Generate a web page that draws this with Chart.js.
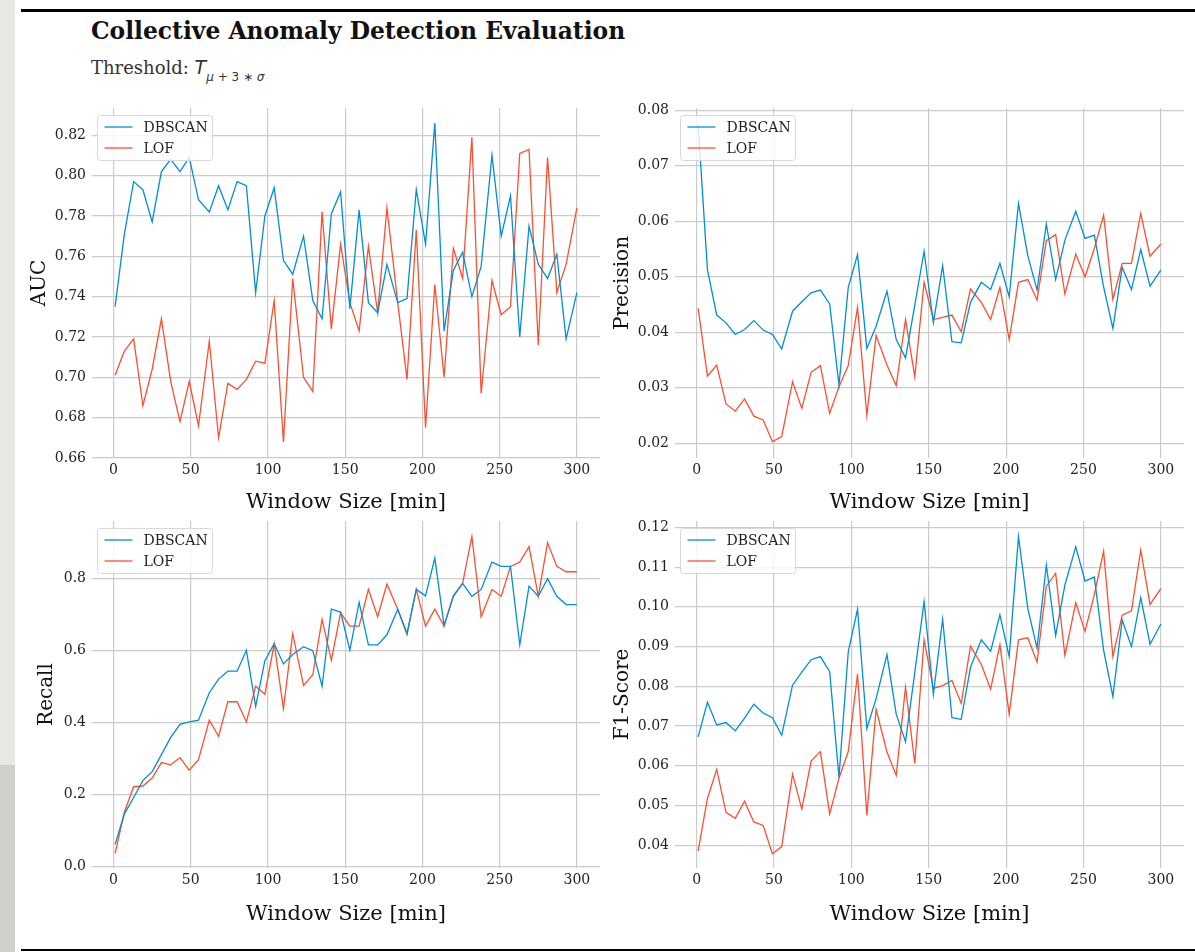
<!DOCTYPE html>
<html>
<head>
<meta charset="utf-8">
<script src="https://cdn.jsdelivr.net/npm/chart.js@4.4.1/dist/chart.umd.min.js"></script>
<style>
  html, body { margin: 0; padding: 0; }
  body { width: 1195px; height: 952px; position: relative; overflow: hidden; background: #fff; font-family: 'DejaVu Serif', serif; color: #111; }
  .strip-top { position: absolute; left: 0; top: 0; width: 15px; height: 765px; background: #e9e7e2; }
  .strip-bottom { position: absolute; left: 0; top: 765px; width: 15px; height: 187px; background: #cfd0cb; }
  .rule-top { position: absolute; left: 21px; top: 9px; width: 1174px; height: 3px; background: #000; }
  .rule-bottom { position: absolute; left: 21px; top: 949px; width: 1174px; height: 2px; background: #000; }
  .title { position: absolute; left: 91px; top: 17px; font-weight: bold; font-size: 23.4px; line-height: 28px; white-space: nowrap; }
  .subtitle { position: absolute; left: 91px; top: 56px; font-size: 18px; line-height: 22px; color: #333; white-space: nowrap; }
  .subtitle .m { font-family: 'DejaVu Sans', sans-serif; font-style: italic; font-size: 19px; }
  .subtitle sub { font-family: 'DejaVu Sans', sans-serif; font-size: 12px; position: relative; top: 2px; }
  .subtitle sub i { font-style: italic; }
  canvas { position: absolute; }
</style>
</head>
<body>
<div class="strip-top"></div>
<div class="strip-bottom"></div>
<div class="rule-top"></div>
<div class="rule-bottom"></div>
<div class="title">Collective Anomaly Detection Evaluation</div>
<div class="subtitle">Threshold: <span class="m">T</span><sub><i>μ</i> + 3 ∗ <i>σ</i></sub></div>

<canvas id="aucChart" width="582" height="425" style="left:28px;top:90px"></canvas>
<canvas id="precisionChart" width="579" height="425" style="left:611px;top:90px"></canvas>
<canvas id="recallChart" width="575" height="424" style="left:35px;top:503px"></canvas>
<canvas id="f1Chart" width="579" height="424" style="left:611px;top:503px"></canvas>

<script>
// window sizes (x axis)
const windowSizes = [1, 7, 13, 19, 25, 31, 37, 43, 49, 55, 62, 68, 74, 80, 86, 92, 98, 104, 110, 116,
  123, 129, 135, 141, 147, 153, 159, 165, 171, 177, 184, 190, 196, 202, 208, 214, 220, 226, 232, 238,
  245, 251, 257, 263, 269, 275, 281, 287, 293, 300];

const aucDbscan = [0.735, 0.771, 0.797, 0.793, 0.777, 0.802, 0.808, 0.802, 0.809, 0.788, 0.782, 0.795,
  0.783, 0.797, 0.795, 0.742, 0.780, 0.794, 0.758, 0.751, 0.770, 0.738, 0.729, 0.781, 0.792, 0.734,
  0.783, 0.737, 0.732, 0.756, 0.737, 0.739, 0.793, 0.766, 0.826, 0.723, 0.753, 0.762, 0.740, 0.755,
  0.810, 0.770, 0.790, 0.720, 0.775, 0.756, 0.749, 0.761, 0.719, 0.742];
const aucLof = [0.701, 0.713, 0.719, 0.686, 0.704, 0.729, 0.698, 0.678, 0.698, 0.676, 0.718, 0.670,
  0.697, 0.694, 0.699, 0.708, 0.707, 0.738, 0.668, 0.749, 0.700, 0.693, 0.782, 0.724, 0.766, 0.737,
  0.723, 0.765, 0.732, 0.784, 0.737, 0.699, 0.773, 0.675, 0.746, 0.700, 0.764, 0.749, 0.819, 0.692,
  0.748, 0.731, 0.735, 0.811, 0.813, 0.716, 0.809, 0.742, 0.756, 0.784];

const precisionDbscan = [0.0775, 0.0513, 0.0431, 0.0417, 0.0396, 0.0405, 0.0421, 0.0404, 0.0396, 0.0370,
  0.0438, 0.0455, 0.0471, 0.0476, 0.0451, 0.0305, 0.0481, 0.0540, 0.0371, 0.0411, 0.0474, 0.0387,
  0.0354, 0.0449, 0.0546, 0.0417, 0.0520, 0.0383, 0.0381, 0.0454, 0.0490, 0.0477, 0.0524, 0.0464,
  0.0632, 0.0538, 0.0476, 0.0595, 0.0495, 0.0566, 0.0618, 0.0569, 0.0575, 0.0482, 0.0407, 0.0517,
  0.0477, 0.0549, 0.0483, 0.0512];
const precisionLof = [0.0443, 0.0321, 0.0341, 0.0271, 0.0258, 0.0280, 0.0249, 0.0242, 0.0203, 0.0212,
  0.0311, 0.0263, 0.0328, 0.0340, 0.0254, 0.0302, 0.0340, 0.0445, 0.0251, 0.0394, 0.0341, 0.0304,
  0.0423, 0.0320, 0.0490, 0.0423, 0.0427, 0.0431, 0.0401, 0.0478, 0.0454, 0.0423, 0.0481, 0.0387,
  0.0490, 0.0495, 0.0458, 0.0565, 0.0576, 0.0469, 0.0541, 0.0500, 0.0551, 0.0611, 0.0459, 0.0524,
  0.0524, 0.0614, 0.0537, 0.0559];

const recallDbscan = [0.061, 0.145, 0.191, 0.238, 0.263, 0.310, 0.358, 0.394, 0.401, 0.406, 0.482, 0.520,
  0.542, 0.542, 0.600, 0.444, 0.571, 0.618, 0.562, 0.588, 0.610, 0.599, 0.500, 0.714, 0.706, 0.600,
  0.733, 0.615, 0.615, 0.643, 0.714, 0.647, 0.769, 0.751, 0.856, 0.669, 0.751, 0.786, 0.750, 0.769,
  0.845, 0.833, 0.833, 0.615, 0.778, 0.750, 0.799, 0.750, 0.727, 0.727];
const recallLof = [0.036, 0.150, 0.221, 0.223, 0.245, 0.288, 0.282, 0.302, 0.267, 0.296, 0.406, 0.361,
  0.457, 0.457, 0.401, 0.500, 0.478, 0.618, 0.438, 0.646, 0.502, 0.532, 0.686, 0.572, 0.704, 0.667,
  0.667, 0.769, 0.693, 0.784, 0.714, 0.644, 0.769, 0.667, 0.714, 0.667, 0.750, 0.786, 0.916, 0.693,
  0.769, 0.750, 0.833, 0.845, 0.888, 0.750, 0.899, 0.833, 0.818, 0.818];

const f1Dbscan = [0.0673, 0.0760, 0.0703, 0.0709, 0.0688, 0.0720, 0.0755, 0.0733, 0.0721, 0.0677,
  0.0803, 0.0836, 0.0867, 0.0875, 0.0837, 0.0571, 0.0887, 0.0994, 0.0694, 0.0769, 0.0880, 0.0730,
  0.0661, 0.0835, 0.1013, 0.0780, 0.0969, 0.0721, 0.0717, 0.0848, 0.0917, 0.0888, 0.0980, 0.0875,
  0.1177, 0.0996, 0.0896, 0.1105, 0.0928, 0.1055, 0.1151, 0.1065, 0.1075, 0.0891, 0.0774, 0.0967,
  0.0900, 0.1023, 0.0906, 0.0957];
const f1Lof = [0.0386, 0.0518, 0.0591, 0.0483, 0.0468, 0.0511, 0.0459, 0.0450, 0.0379, 0.0397,
  0.0579, 0.0491, 0.0612, 0.0636, 0.0479, 0.0569, 0.0636, 0.0831, 0.0476, 0.0742, 0.0635, 0.0576,
  0.0798, 0.0606, 0.0917, 0.0795, 0.0802, 0.0815, 0.0757, 0.0901, 0.0855, 0.0793, 0.0905, 0.0730,
  0.0917, 0.0922, 0.0861, 0.1052, 0.1084, 0.0878, 0.1010, 0.0938, 0.1031, 0.1140, 0.0875, 0.0979,
  0.0990, 0.1143, 0.1006, 0.1046];

// tick labels
const xTicks = [0, 50, 100, 150, 200, 250, 300];
const aucTicks = [0.66, 0.68, 0.70, 0.72, 0.74, 0.76, 0.78, 0.80, 0.82];
const precisionTicks = [0.02, 0.03, 0.04, 0.05, 0.06, 0.07, 0.08];
const recallTicks = [0.0, 0.2, 0.4, 0.6, 0.8];
const f1Ticks = [0.04, 0.05, 0.06, 0.07, 0.08, 0.09, 0.10, 0.11, 0.12];

const BLUE = '#008fd5';
const RED = '#fc4f30';
const GRID = '#cbcbcb';
const serif = 'DejaVu Serif';

// legend drawn as a framed box in the upper-left corner of the plot
const legendBox = {
  id: 'legendBox',
  afterDatasetsDraw(chart) {
    const { ctx, chartArea } = chart;
    const x = chartArea.left + 5.5, y = chartArea.top + 7.5, w = 115, h = 45;
    ctx.save();
    ctx.beginPath();
    ctx.roundRect(x, y, w, h, 3);
    ctx.fillStyle = 'rgba(255,255,255,0.8)';
    ctx.fill();
    ctx.strokeStyle = '#d8d8d8';
    ctx.lineWidth = 1;
    ctx.stroke();
    chart.data.datasets.forEach((ds, i) => {
      const ly = y + 11.5 + i * 21;
      ctx.beginPath();
      ctx.moveTo(x + 7, ly);
      ctx.lineTo(x + 35, ly);
      ctx.strokeStyle = ds.borderColor;
      ctx.lineWidth = 1.3;
      ctx.stroke();
      ctx.fillStyle = '#222';
      ctx.font = '14px ' + serif;
      ctx.textBaseline = 'middle';
      ctx.fillText(ds.label, x + 46, ly + 1);
    });
    ctx.restore();
  }
};

function points(values) {
  return windowSizes.map((x, i) => ({ x: x, y: values[i] }));
}

function makeChart(id, yTitle, yMin, yMax, yTicks, decimals, dbscan, lof, padRight, xHeight, yWidth) {
  return new Chart(document.getElementById(id), {
    type: 'line',
    data: {
      datasets: [
        { label: 'DBSCAN', data: points(dbscan), borderColor: BLUE, backgroundColor: BLUE },
        { label: 'LOF', data: points(lof), borderColor: RED, backgroundColor: RED }
      ]
    },
    options: {
      responsive: false,
      animation: false,
      layout: { padding: { top: 18, right: padRight, left: 0, bottom: 0 } },
      elements: {
        point: { radius: 0 },
        line: { borderWidth: 1.3, tension: 0 }
      },
      plugins: {
        legend: { display: false },
        tooltip: { enabled: false }
      },
      scales: {
        x: {
          type: 'linear',
          min: -13.95,
          max: 314.95,
          afterBuildTicks: s => { s.ticks = xTicks.map(v => ({ value: v })); },
          afterFit: s => { s.height = xHeight; },
          grid: { color: GRID, lineWidth: 1.2, drawTicks: false },
          border: { display: false },
          ticks: {
            padding: 4, color: '#222', autoSkip: false, maxRotation: 0,
            font: { family: serif, size: 14 },
            callback: v => String(v)
          },
          title: {
            display: true, text: 'Window Size [min]', color: '#111',
            font: { family: serif, size: 21 }, padding: 0
          }
        },
        y: {
          min: yMin,
          max: yMax,
          afterBuildTicks: s => { s.ticks = yTicks.map(v => ({ value: v })); },
          afterFit: s => { s.width = yWidth; },
          grid: { color: GRID, lineWidth: 1.2, drawTicks: false },
          border: { display: false },
          ticks: {
            padding: 6, color: '#222',
            font: { family: serif, size: 14 },
            callback: v => v.toFixed(decimals)
          },
          title: {
            display: true, text: yTitle, color: '#111',
            font: { family: serif, size: 20 }, padding: 0
          }
        }
      }
    },
    plugins: [legendBox]
  });
}

document.addEventListener('DOMContentLoaded', () => {
  makeChart('aucChart', 'AUC', 0.66, 0.8335, aucTicks, 2, aucDbscan, aucLof, 10, 57, 64);
  makeChart('precisionChart', 'Precision', 0.01736, 0.0804, precisionTicks, 2, precisionDbscan, precisionLof, 6, 57, 64);
  makeChart('recallChart', 'Recall', -0.0047, 0.959, recallTicks, 1, recallDbscan, recallLof, 10, 59, 57);
  makeChart('f1Chart', 'F1-Score', 0.0343, 0.1216, f1Ticks, 2, f1Dbscan, f1Lof, 6, 59, 64);
});
</script>
</body>
</html>
